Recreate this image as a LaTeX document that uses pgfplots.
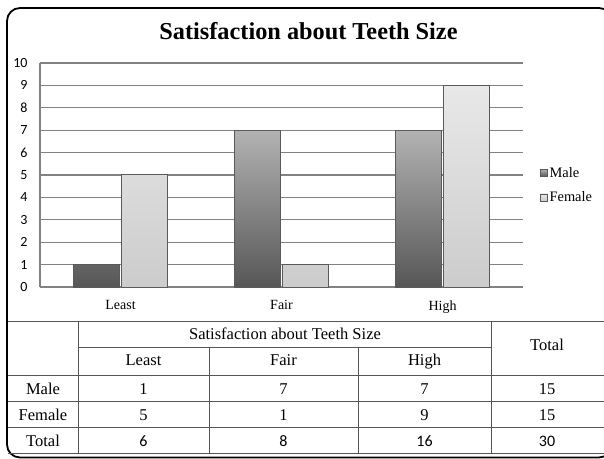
\documentclass[border=0pt]{standalone}
\usepackage{pgfplots}
\pgfplotsset{compat=1.18}
\usepackage{fontspec}
\setmainfont{Liberation Serif}
\newfontfamily\calibri{Carlito}
\definecolor{gridgray}{HTML}{828282}
\definecolor{tblgray}{HTML}{555555}
\definecolor{barborder}{HTML}{5A5A5A}
\begin{document}
\begin{tikzpicture}[x=1pt,y=1pt]
\useasboundingbox (0,0) rectangle (604,458);
% outer frame
\draw[line width=1.8pt, rounded corners=13pt] (7,0.5) rectangle (612,450);
% title
\node[anchor=base, font=\fontsize{24.3}{28}\selectfont\bfseries] at (308.5,418) {Satisfaction about Teeth Size};
\begin{axis}[
  at={(40pt,171pt)}, anchor=south west,
  scale only axis, width=483pt, height=224pt,
  ybar=1.5pt, bar width=0.289,
  xmin=-0.5, xmax=2.5, ymin=0, ymax=10,
  xtick=data, xticklabels={Least,Fair,High},
  ytick={0,1,...,10},
  major tick length=0pt,
  axis lines*=left,
  axis line style={gridgray, line width=1.3pt, -},
  ymajorgrids, major grid style={gridgray, line width=1.3pt},
  /pgf/number format/assume math mode=true,
  yticklabel style={font=\calibri\fontsize{14}{14}\selectfont, xshift=-9pt},
  xticklabel style={font=\fontsize{14}{15}\selectfont, yshift=-10pt},
  legend style={at={(1.035,0.455)}, anchor=west, draw=none, fill=none,
    font=\fontsize{14.4}{15}\selectfont, row sep=9pt, inner sep=0pt,
    legend cell align=left},
  legend image code/.code={\draw[#1, line width=0.5pt] (0pt,-3.5pt) rectangle (7pt,3.5pt);},
]
\addplot[draw=barborder, line width=1pt, top color=black!30, bottom color=black!66] coordinates {(0,1) (1,7) (2,7)};
\addplot[draw=barborder, line width=1pt, top color=black!9, bottom color=black!20] coordinates {(0,5) (1,1) (2,9)};
\legend{Male,Female}
\end{axis}
% data table
\begin{scope}[tblgray, line width=1pt]
\draw (8,137) -- (604,137);
\draw (78,111) -- (491,111);
\draw (8,83) -- (604,83);
\draw (8,57) -- (604,57);
\draw (8,31) -- (604,31);
\draw (8,5) -- (604,5);
\draw (78,137) -- (78,5);
\draw (209,111) -- (209,5);
\draw (358,111) -- (358,5);
\draw (491,137) -- (491,5);
\end{scope}
\begin{scope}[every node/.style={anchor=base, font=\fontsize{16.5}{18}\selectfont, inner sep=0pt}]
\node at (285,118.5) {Satisfaction about Teeth Size};
\node at (143.5,92.5) {Least};
\node at (283.5,92.5) {Fair};
\node at (424.5,92.5) {High};
\node at (547,107.5) {Total};
\node at (43,63.5) {Male};
\node at (43,37.5) {Female};
\node at (43,11.5) {Total};
\node at (143.5,63.5) {1};
\node at (283.5,63.5) {7};
\node at (424.5,63.5) {7};
\node at (547,63.5) {15};
\node at (143.5,37.5) {5};
\node at (283.5,37.5) {1};
\node at (424.5,37.5) {9};
\node at (547,37.5) {15};
\node[font=\calibri\fontsize{16}{18}\selectfont] at (143.5,11.5) {6};
\node[font=\calibri\fontsize{16}{18}\selectfont] at (283.5,11.5) {8};
\node[font=\calibri\fontsize{16}{18}\selectfont] at (424.5,11.5) {16};
\node[font=\calibri\fontsize{16}{18}\selectfont] at (547,11.5) {30};
\end{scope}
\end{tikzpicture}
\end{document}
